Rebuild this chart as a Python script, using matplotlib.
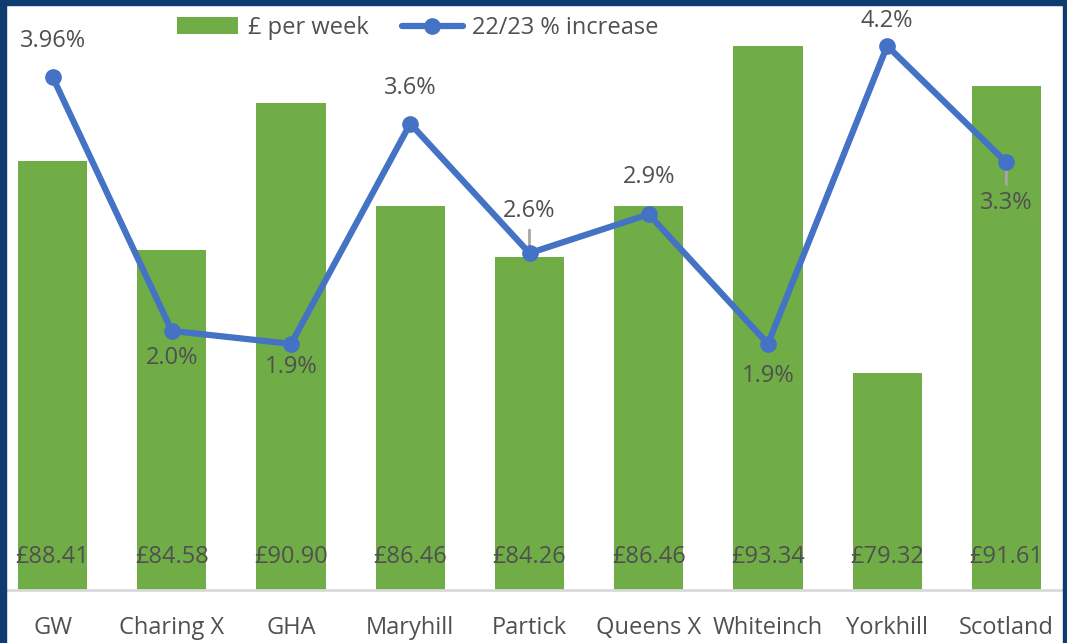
import matplotlib
matplotlib.use("Agg")
import matplotlib.pyplot as plt
from matplotlib.patches import Rectangle

# data
areas = ["GW", "Charing X", "GHA", "Maryhill", "Partick", "Queens X", "Whiteinch", "Yorkhill", "Scotland"]
per_week = [88.41, 84.58, 90.90, 86.46, 84.26, 86.46, 93.34, 79.32, 91.61]
pct_increase = [3.96, 2.0, 1.9, 3.6, 2.6, 2.9, 1.9, 4.2, 3.3]
pct_labels = ["3.96%", "2.0%", "1.9%", "3.6%", "2.6%", "2.9%", "1.9%", "4.2%", "3.3%"]
# label offset from the point, in pixels (positive = above)
label_offset = [36, -27, -23, 36, 42, 37, -32, 25, -41]
with_leader = [False, False, False, False, True, False, False, False, True]

green = "#70AD47"
blue = "#4472C4"
txt = "#505050"
plt.rcParams['font.family'] = ['Open Sans', 'DejaVu Sans']
fs = 17

fig = plt.figure(figsize=(10.67, 6.43), dpi=100)
ax = fig.add_axes([-7 / 1067, 1 - 590 / 643, 1073 / 1067, 583 / 643])
x = list(range(len(areas)))

ax.bar(x, per_week, width=0.58, color=green, label="£ per week", zorder=2)
ax.set_ylim(70, 95)
ax.set_xlim(-0.5, len(areas) - 0.5)
for xi, v in zip(x, per_week):
    ax.annotate("£%.2f" % v, (xi, 70), xytext=(0, 33 * 0.72), textcoords="offset points",
                ha="center", va="center", fontsize=fs, color=txt, zorder=5)

ax2 = ax.twinx()
ax2.set_ylim(0, 4.5)
ax2.plot(x, pct_increase, color=blue, lw=4.5, marker="o", markersize=11,
         label="22/23 % increase", zorder=3, solid_capstyle="round")
for xi, v, lab, off, lead in zip(x, pct_increase, pct_labels, label_offset, with_leader):
    ax2.annotate(lab, (xi, v), xytext=(0, off * 0.72), textcoords="offset points",
                 ha="center", va="center", fontsize=fs, color=txt, zorder=2,
                 arrowprops=dict(arrowstyle="-", color="#A6A6A6", lw=2,
                                 shrinkA=3, shrinkB=0) if lead else None)

for a in (ax, ax2):
    for s in ("top", "left", "right"):
        a.spines[s].set_visible(False)
    a.set_yticks([])
ax.spines["bottom"].set_color("#D9D9D9")
ax.spines["bottom"].set_linewidth(2)
ax2.spines["bottom"].set_visible(False)
ax.set_xticks(x)
ax.set_xticklabels(areas, fontsize=fs, color=txt)
ax.tick_params(axis="x", length=0, pad=19)

h1, l1 = ax.get_legend_handles_labels()
h2, l2 = ax2.get_legend_handles_labels()
fig.legend(h1 + h2, l1 + l2, loc="center", bbox_to_anchor=(418 / 1067, 1 - 28 / 643),
           ncol=2, frameon=False, fontsize=fs, labelcolor=txt, handlelength=2.6,
           columnspacing=1.4, handletextpad=0.4)

# dark frame
navy = "#0E3C6E"
fig.patches.append(Rectangle((0, 0), 6 / 1067, 1, transform=fig.transFigure, color=navy, zorder=10))
fig.patches.append(Rectangle((0, 1 - 5 / 643), 1, 5 / 643, transform=fig.transFigure, color=navy, zorder=10))
fig.patches.append(Rectangle((1 - 4 / 1067, 0), 4 / 1067, 1, transform=fig.transFigure, color=navy, zorder=10))

fig.savefig("out.png", dpi=100)
